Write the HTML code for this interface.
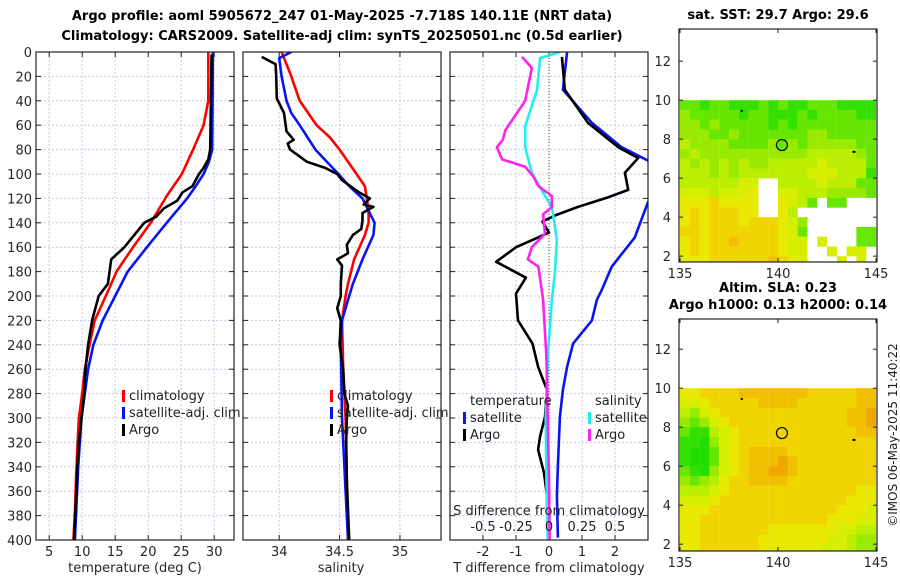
<!DOCTYPE html>
<html><head><meta charset="utf-8"><style>
body{margin:0;background:#fff}
svg{display:block;font-family:"DejaVu Sans","Liberation Sans",sans-serif}
</style></head><body>
<svg id="c" width="900" height="580" viewBox="0 0 900 580" xmlns="http://www.w3.org/2000/svg">
<rect width="900" height="580" fill="#fff"/>
<text x="342" y="20" text-anchor="middle" font-size="13" font-weight="bold">Argo profile: aoml 5905672_247 01-May-2025 -7.718S 140.11E (NRT data)</text>
<text x="342" y="40" text-anchor="middle" font-size="13" font-weight="bold">Climatology: CARS2009. Satellite-adj clim: synTS_20250501.nc (0.5d earlier)</text>
<text x="778" y="19" text-anchor="middle" font-size="13" font-weight="bold">sat. SST: 29.7 Argo: 29.6</text>
<text x="778" y="292" text-anchor="middle" font-size="13" font-weight="bold">Altim. SLA: 0.23</text>
<text x="778" y="309" text-anchor="middle" font-size="13" font-weight="bold">Argo h1000: 0.13 h2000: 0.14</text>
<text transform="translate(897,435) rotate(-90)" text-anchor="middle" font-size="12" fill="#222">©IMOS 06-May-2025 11:40:22</text>
<g id="g"></g>
</svg>
<script>
// ---- depth axis
const depthTicks = [0,20,40,60,80,100,120,140,160,180,200,220,240,260,280,300,320,340,360,380,400];
// ---- temperature panel
const tTicks = [5,10,15,20,25,30];
const climTd = [0,40,60,80,100,118,139,160,180,195,220,240,260,280,300,320,350,378,400];
const climT = [29.1,29.1,28.4,26.8,25.1,22.8,20.5,17.7,15.2,14.0,11.9,11.1,10.4,10.0,9.5,9.3,9.06,8.9,8.66];
const satTd = [0,80,90,100,110,120,140,160,180,200,220,240,260,280,300,340,400];
const satT = [29.8,29.7,29.2,28.4,27.2,25.9,22.8,19.8,16.9,15.0,13.1,11.7,10.9,10.4,9.9,9.4,8.9];
const argoTd = [2,80,88,95,100,110,115,122,128,135,140,150,160,170,178,190,200,220,240,260,280,300,320,340,360,400];
const argoT = [29.6,29.4,29.1,28.4,27.7,26.7,25.2,24.4,22.4,21.2,19.4,17.9,16.4,14.4,14.2,13.9,12.5,11.5,10.9,10.5,10.3,9.9,9.5,9.25,9.1,8.75];
// ---- salinity panel
const sTicks = [34,34.5,35];
const sTickLabels = ["34","34.5","35"];
const climSd = [0,10,20,40,60,70,80,100,110,130,140,150,170,190,200,220,260,300,400];
const climS = [34.02,34.06,34.10,34.17,34.31,34.42,34.50,34.64,34.71,34.74,34.74,34.71,34.62,34.57,34.55,34.52,34.53,34.55,34.57];
const satSd = [0,5,20,40,50,60,80,100,110,120,140,150,170,190,200,220,240,300,350,400];
const satS = [34.10,34.00,34.02,34.06,34.10,34.17,34.30,34.49,34.58,34.69,34.79,34.78,34.69,34.61,34.58,34.52,34.51,34.52,34.545,34.57];
const argoSd = [4,10,20,38,50,65,72,75,80,90,95,100,105,115,120,125,127,132,138,145,150,158,165,170,175,190,200,210,220,240,260,280,290,300,320,350,400];
const argoS = [33.855,33.97,33.975,33.98,34.04,34.06,34.12,34.07,34.09,34.23,34.38,34.48,34.52,34.66,34.75,34.70,34.78,34.69,34.69,34.68,34.61,34.56,34.57,34.48,34.52,34.51,34.51,34.48,34.51,34.50,34.53,34.54,34.57,34.56,34.555,34.56,34.58];
// ---- difference panel
const dTTicks = [-2,-1,0,1,2];
const dSTicks = [-0.5,-0.25,0,0.25,0.5];
const dSTickLabels = ["-0.5","-0.25","0","0.25","0.5"];
const argoDTd = [4,31,58,78,87,99,113,119,127,134,139,148,154,160,172,185,198,220,239,258,277,299,315,326,345,364,398];
const argoDT = [0.39,0.48,1.18,2.1,2.7,2.3,2.4,1.8,0.88,0.18,-0.2,0,-0.5,-1.0,-1.6,-0.7,-1.0,-0.94,-0.5,-0.33,-0.06,-0.12,-0.27,-0.33,-0.15,-0.06,-0.03];
const satDTd = [0,31,58,78,89,95,115,123,152,176,195,203,220,239,258,277,299,339,364,398];
const satDT = [0.55,0.42,1.3,2.2,3.0,3.6,3.6,3.0,2.6,1.9,1.6,1.45,1.3,0.73,0.55,0.42,0.33,0.27,0.24,0.27];
const satDSd = [0,5,31,61,78,99,118,127,154,181,203,250,300,350,400];
const satDS = [0.083,-0.068,-0.09,-0.18,-0.18,-0.13,-0.03,0.022,0.06,0.045,0.022,-0.01,-0.025,-0.02,-0.01];
const argoDSd = [4,13,40,64,72,78,88,94,102,110,118,127,133,149,160,170,176,203,250,300,350,400];
const argoDS = [-0.205,-0.13,-0.18,-0.33,-0.35,-0.395,-0.355,-0.18,-0.12,-0.08,0.022,0.022,-0.045,-0.03,-0.13,-0.16,-0.08,-0.045,-0.02,-0.01,0.0,0.005];
// ---- maps (rows from lat 10 southward, 0.5 deg cells from lon 135; '.' = missing)
const lonTicks = [135,140,145];
const latTicks = [2,4,6,8,10,12];
const sstGrid = [
"22122111212112221111","32222212211121222211","33232222212122222222","33322322222223322222",
"43333222232323333322","34333333333334444432","43434343344444544442","44434344444445554441",
"44444455..4444544422","55545556..5544433332","66676666..6542.22...","67677766..64........",
"6767776777653.......","7767777777652.....22","6767787777655.5...22","6767777777655..5.55.",
"6667777778765...5.5."];
const slaGrid = [
"66777788888887777788","55677777888877777788","43567777777777777889","32356777777777777889",
"21145677777777777788","11035677777777777777","10025678888777777777","10025678889877777777",
"21035678899877777777","32346778888777777777","44456777777777777766","55567777777777777666",
"66677777777777776665","66777777777777766655","66777777766666665544","66777777666666655433",
"66777777666666555433"];
const argoLon = 140.2, argoLat = 7.7;

const NS="http://www.w3.org/2000/svg";
const G=document.getElementById('g');
function el(tag,attrs,parent){const e=document.createElementNS(NS,tag);for(const k in attrs)e.setAttribute(k,attrs[k]);(parent||G).appendChild(e);return e;}
const TOP=52,BOT=540;
const yD=d=>TOP+(d/400)*(BOT-TOP);
const palette=['#22dd00','#33e000','#66e600','#99ea00','#bbee00','#d8ee00','#e8e800','#f0d400','#f0c000','#f0a800'];

function panel(name,x0,x1,dom,clipId){
  const sx=v=>x0+(v-dom[0])/(dom[1]-dom[0])*(x1-x0);
  const g=el('g',{});
  
  
  const cp=el('clipPath',{id:clipId},g);el('rect',{x:x0,y:TOP,width:x1-x0,height:BOT-TOP},cp);
  return {g,sx,x0,x1,clip:clipId};
}
function grid(p,xticks,showDepthLabels){
  depthTicks.forEach(d=>{
    const y=yD(d);
    if(d>0&&d<400){const l=el('line',{x1:p.x0,x2:p.x1,y1:y,y2:y,stroke:'#c4c8e4','stroke-width':1,'stroke-dasharray':'2,2'},p.g);
      }
    el('line',{x1:p.x0,x2:p.x0+5,y1:y,y2:y,stroke:'#222'},p.g);
    el('line',{x1:p.x1-5,x2:p.x1,y1:y,y2:y,stroke:'#222'},p.g);
    if(showDepthLabels){const t=el('text',{x:p.x0-4,y:y+5,'text-anchor':'end','font-size':13,fill:'#262626'},p.g);t.textContent=d;
      }
  });
  xticks.forEach(v=>{
    const x=p.sx(v);
    const l=el('line',{x1:x,x2:x,y1:TOP,y2:BOT,stroke:'#c4c8e4','stroke-width':1,'stroke-dasharray':'2,2'},p.g);
    
    el('line',{x1:x,x2:x,y1:BOT-5,y2:BOT,stroke:'#222'},p.g);
    el('line',{x1:x,x2:x,y1:TOP,y2:TOP+5,stroke:'#222'},p.g);
  });
}
function xlabels(p,ticks,labels,y,name){
  ticks.forEach((v,i)=>{const t=el('text',{x:p.sx(v),y:y,'text-anchor':'middle','font-size':13,fill:'#262626'},p.g);t.textContent=labels?labels[i]:v;
    });
}
function frame(p){el('rect',{x:p.x0,y:TOP,width:p.x1-p.x0,height:BOT-TOP,fill:'none',stroke:'#222','stroke-width':1.2},p.g);}
function line(p,depths,vals,color,name,sx){
  const f=sx||p.sx;
  const pts=depths.map((d,i)=>f(vals[i]).toFixed(1)+','+yD(d).toFixed(1)).join(' ');
  const pl=el('polyline',{points:pts,fill:'none',stroke:color,'stroke-width':2.6,'stroke-linejoin':'round','clip-path':'url(#'+p.clip+')'},p.g);
  
  
}
function legend(p,x,items){
  items.forEach((it,i)=>{const y=400+i*17;
    el('rect',{x:x,y:y-10,width:3,height:12,fill:it[1]},p.g);
    const t=el('text',{x:x+7,y:y,'font-size':13,fill:'#222'},p.g);t.textContent=it[0];
    });
}

// Temperature panel
const p1=panel('temperature-panel',36,234,[3,33],'c1');
grid(p1,tTicks,true);
line(p1,climTd,climT,'#ff0000','clim-temperature-line');
line(p1,satTd,satT,'#0a14f0','sat-temperature-line');
line(p1,argoTd,argoT,'#000','argo-temperature-line');
frame(p1);xlabels(p1,tTicks,null,556,'temperature-tick-label');
let t=el('text',{x:135,y:572,'text-anchor':'middle','font-size':13,fill:'#262626'},p1.g);t.textContent='temperature (deg C)';

legend(p1,122,[['climatology','#ff0000'],['satellite-adj. clim','#0a14f0'],['Argo','#000']]);

// Salinity panel
const p2=panel('salinity-panel',243,441,[33.7,35.34],'c2');
grid(p2,sTicks,false);
line(p2,climSd,climS,'#ff0000','clim-salinity-line');
line(p2,satSd,satS,'#0a14f0','sat-salinity-line');
line(p2,argoSd,argoS,'#000','argo-salinity-line');
frame(p2);xlabels(p2,sTicks,sTickLabels,556,'salinity-tick-label');
t=el('text',{x:341,y:572,'text-anchor':'middle','font-size':13,fill:'#262626'},p2.g);t.textContent='salinity';

legend(p2,330,[['climatology','#ff0000'],['satellite-adj. clim','#0a14f0'],['Argo','#000']]);

// Difference panel
const p3=panel('difference-panel',450,648,[-3,3],'c3');
grid(p3,dTTicks,false);
const sxS=v=>p3.sx(v*4);
let z=el('line',{x1:p3.sx(0),x2:p3.sx(0),y1:TOP,y2:BOT,stroke:'#555','stroke-width':1,'stroke-dasharray':'1,2'},p3.g);

line(p3,satDTd,satDT,'#0a14f0','sat-tdiff-line');
line(p3,argoDTd,argoDT,'#000','argo-tdiff-line');
line(p3,satDSd,satDS,'#22eeee','sat-sdiff-line',sxS);
line(p3,argoDSd,argoDS,'#ff22ee','argo-sdiff-line',sxS);
frame(p3);xlabels(p3,dTTicks,null,556,'tdiff-tick-label');
dSTicks.forEach((v,i)=>{const tt=el('text',{x:sxS(v),y:531,'text-anchor':'middle','font-size':13,fill:'#222'},p3.g);tt.textContent=dSTickLabels[i];
  });
t=el('text',{x:549,y:515,'text-anchor':'middle','font-size':13,fill:'#222'},p3.g);t.textContent='S difference from climatology';

t=el('text',{x:549,y:572,'text-anchor':'middle','font-size':13,fill:'#262626'},p3.g);t.textContent='T difference from climatology';

t=el('text',{x:470,y:405,'font-size':13,fill:'#222'},p3.g);t.textContent='temperature';

t=el('text',{x:595,y:405,'font-size':13,fill:'#222'},p3.g);t.textContent='salinity';

[['satellite','#0a14f0',463],['Argo','#000',463],['satellite','#22eeee',588],['Argo','#ff22ee',588]].forEach((it,i)=>{
  const y=422+(i%2)*17;el('rect',{x:it[2],y:y-10,width:3,height:12,fill:it[1]},p3.g);
  const tt=el('text',{x:it[2]+7,y:y,'font-size':13,fill:'#222'},p3.g);tt.textContent=it[0];
  });

// Maps
function map(name,top,bot,lat0,lat1,grid,id){
  const L=679,R=877;
  const sx=v=>680+(v-135)*19.6;
  const sy=v=>bot-(v-lat0)/(lat1-lat0)*(bot-top);
  const g=el('g',{});
  
  
  const cp=el('clipPath',{id:id},g);el('rect',{x:L,y:top,width:R-L,height:bot-top},cp);
  const cg=el('g',{'clip-path':'url(#'+id+')'},g);
  grid.forEach((row,r)=>{for(let c=0;c<row.length;c++){const ch=row[c];if(ch==='.')continue;
    const lonA=135+c*0.5, latT=10-r*0.5;
    const cell=el('rect',{x:sx(lonA).toFixed(1),y:sy(latT).toFixed(1),width:9.9,height:(sy(latT-0.5)-sy(latT)+0.3).toFixed(1),fill:palette[+ch]},cg);
    
    }});
  const m=el('circle',{cx:sx(argoLon),cy:sy(argoLat),r:5.5,fill:'none',stroke:'#000','stroke-width':1.2},g);
  
  el('rect',{x:sx(138.1),y:sy(9.5),width:2,height:2,fill:'#000'},g);
  el('rect',{x:sx(143.8),y:sy(7.4),width:3,height:2,fill:'#000'},g);
  el('rect',{x:L,y:top,width:R-L,height:bot-top,fill:'none',stroke:'#222','stroke-width':1.2},g);
  latTicks.forEach(v=>{const y=sy(v);el('line',{x1:L,x2:L+4,y1:y,y2:y,stroke:'#222'},g);el('line',{x1:R-4,x2:R,y1:y,y2:y,stroke:'#222'},g);
    const tt=el('text',{x:L-8,y:y+5,'text-anchor':'end','font-size':13,fill:'#262626'},g);tt.textContent=v;
    });
  lonTicks.forEach(v=>{const x=sx(v);el('line',{x1:x,x2:x,y1:bot-4,y2:bot,stroke:'#222'},g);el('line',{x1:x,x2:x,y1:top,y2:top+4,stroke:'#222'},g);
    const tt=el('text',{x:x,y:bot+16,'text-anchor':'middle','font-size':13,fill:'#262626'},g);tt.textContent=v;
    });
}
map('sst-map',29,262,1.7,13.65,sstGrid,'m1');
map('sla-map',319,551,1.65,13.55,slaGrid,'m2');
</script>
</body></html>
